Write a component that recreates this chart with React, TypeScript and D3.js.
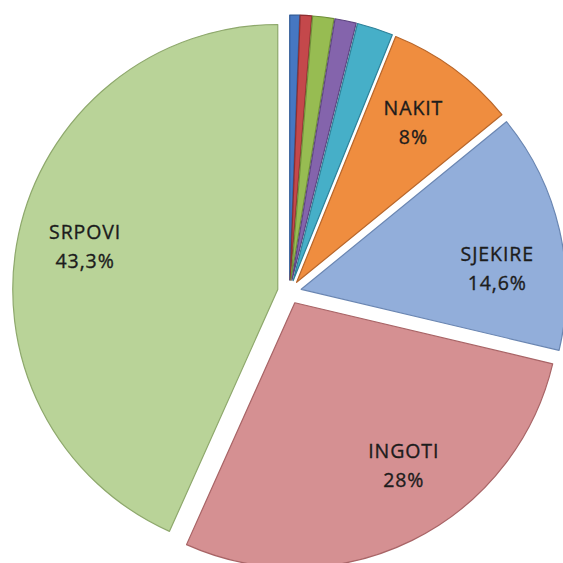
import * as d3 from 'd3';
import React from 'react';

// slices, clockwise from 12 o'clock
const categories = ['A', 'B', 'C', 'D', 'E', 'NAKIT', 'SJEKIRE', 'INGOTI', 'SRPOVI'];
const values = [0.6, 0.7, 1.3, 1.3, 2.2, 8, 14.6, 28, 43.3];
const labels = ['', '', '', '', '', '8%', '14,6%', '28%', '43,3%'];
const fills = ['#4677C2', '#C4484B', '#97BC52', '#8464AC', '#46AFC8', '#EF8D3F', '#92AEDA', '#D59092', '#B9D398'];
const strokes = ['#2F5A96', '#8E2E31', '#6F8E38', '#5D4580', '#2E8199', '#B8662A', '#6A86B2', '#A86466', '#8EA86C'];

interface Slice {
  name: string,
  value: number,
  label: string,
  fill: string,
  stroke: string
}

const rows: Slice[] = categories.map((name, i) => ({
  name,
  value: values[i],
  label: labels[i],
  fill: fills[i],
  stroke: strokes[i]
}));

const size = 563;
const cx = 289.5;
const cy = 292;
const radius = 265;
const explode = 12;
const labelRadius = 197;
// Excel's best-fit nudges for two labels (degrees)
const labelShift: Record<string, number> = {SJEKIRE: 7.4, INGOTI: -7.3};

export default function App() {
  const pie = d3.pie<Slice>().sort(null).value(d => d.value);
  const arcs = pie(rows);
  const arc = d3.arc<d3.PieArcDatum<Slice>>().innerRadius(0).outerRadius(radius);

  return (
    <svg width={size} height={size} viewBox={`0 0 ${size} ${size}`}
      style={{position: 'absolute', left: 0, top: 0, background: '#fff'}}>
      <g transform={`translate(${cx}, ${cy})`}>
        {arcs.map(a => {
          const mid = (a.startAngle + a.endAngle) / 2;
          const ox = explode * Math.sin(mid);
          const oy = -explode * Math.cos(mid);
          return (
            <path key={a.data.name} d={arc(a) || ''} transform={`translate(${ox}, ${oy})`}
              fill={a.data.fill} stroke={a.data.stroke} strokeWidth={1.2} strokeLinejoin='round'/>
          );
        })}
        {arcs.filter(a => a.data.label).map(a => {
          const base = (a.startAngle + a.endAngle) / 2;
          const mid = base + (labelShift[a.data.name] || 0) * Math.PI / 180;
          const x = explode * Math.sin(base) + labelRadius * Math.sin(mid);
          const y = -explode * Math.cos(base) - labelRadius * Math.cos(mid);
          return (
            <text key={a.data.name} x={x} y={y} textAnchor='middle'
              fontFamily='"Open Sans", sans-serif' fontSize={19.5} letterSpacing={0.9}
              fill='#1c1c1c' stroke='#1c1c1c' strokeWidth={0.35}>
              <tspan x={x} dy={-9}>{a.data.name}</tspan>
              <tspan x={x} dy={29}>{a.data.label}</tspan>
            </text>
          );
        })}
      </g>
    </svg>
  );
}
